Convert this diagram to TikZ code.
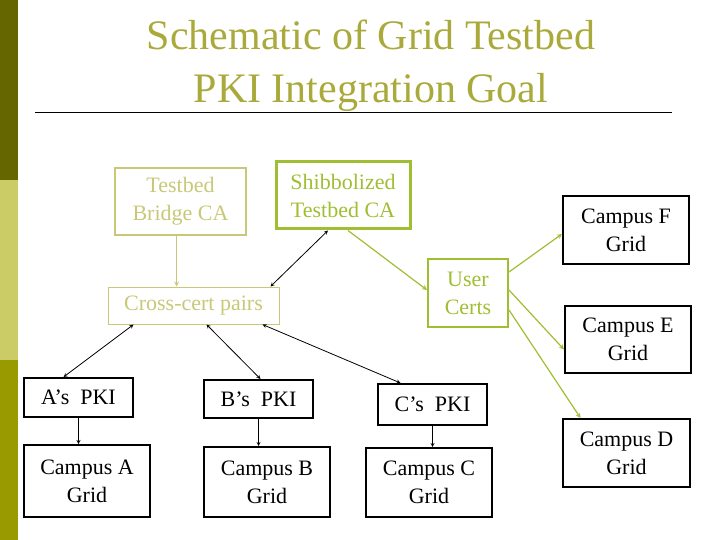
\documentclass[tikz,border=0pt]{standalone}
\usepackage{fontspec}
\setmainfont{Liberation Serif}
\definecolor{oliveDark}{RGB}{102,102,0}
\definecolor{oliveLight}{RGB}{204,204,102}
\definecolor{oliveMid}{RGB}{153,153,0}
\definecolor{titleCol}{RGB}{170,170,60}
\definecolor{paleCol}{RGB}{200,200,120}
\definecolor{greenCol}{RGB}{160,190,50}
\tikzset{
    box/.style={draw, line width=2pt, align=center, font=\fontsize{22}{28}\selectfont, inner sep=0pt},
    pale/.style={box, draw=paleCol, text=paleCol, line width=1.5pt},
    green/.style={box, draw=greenCol, text=greenCol},
    link/.style={<->, >=stealth, line width=0.8pt},
}
\begin{document}
\begin{tikzpicture}[x=1pt, y=-1pt]
    \useasboundingbox (0,0) rectangle (720,540);
    % Sidebar and title
    \fill[oliveDark] (0,0) rectangle (18,180);
    \fill[oliveLight] (0,180) rectangle (18,360);
    \fill[oliveMid] (0,360) rectangle (18,540);
    \node[text=titleCol, font=\fontsize{42}{53}\selectfont, align=center] (title) at (371,66) {Schematic of Grid Testbed\\PKI Integration Goal};
    \draw[line width=1pt] (35,113) -- (672,113);

    % CA boxes
    \node[pale, minimum width=131pt, minimum height=67pt] (bridge) at (180.5,201.5) {Testbed\\Bridge CA};
    \node[green, line width=3pt, minimum width=134pt, minimum height=67pt] (shib) at (343,195.5) {Shibbolized\\Testbed CA};
    \node[pale, line width=1pt, minimum width=171pt, minimum height=37pt] (cross) at (193.5,305.5) {Cross-cert pairs};
    \node[green, minimum width=80pt, minimum height=68pt] (user) at (468,293) {User\\Certs};

    % PKIs and grids
    \node[box, minimum width=109pt, minimum height=39pt] (apki) at (78.5,397.5) {A’s\ \ PKI};
    \node[box, minimum width=109pt, minimum height=38pt] (bpki) at (258.5,399) {B’s\ \ PKI};
    \node[box, minimum width=109pt, minimum height=41pt] (cpki) at (432.5,404.5) {C’s\ \ PKI};
    \node[box, minimum width=126pt, minimum height=72pt] (agrid) at (87,481) {Campus A\\Grid};
    \node[box, minimum width=126pt, minimum height=70pt] (bgrid) at (267,482) {Campus B\\Grid};
    \node[box, minimum width=126pt, minimum height=69pt] (cgrid) at (429,482.5) {Campus C\\Grid};
    \node[box, minimum width=126pt, minimum height=68pt] (fgrid) at (626,230) {Campus F\\Grid};
    \node[box, minimum width=126pt, minimum height=67pt] (egrid) at (628,339.5) {Campus E\\Grid};
    \node[box, minimum width=127pt, minimum height=68pt] (dgrid) at (626.5,453) {Campus D\\Grid};

    % Connectors
    \draw[->, >=stealth, paleCol, line width=1.2pt] ([xshift=-4pt]bridge.south) -- ([xshift=-4pt]bridge.south |- cross.north);
    \draw[link] ([xshift=-15pt]shib.south) -- ([xshift=-9pt]cross.north east);
    \draw[->, >=stealth, greenCol, line width=1.2pt] ([xshift=5pt]shib.south) -- ([yshift=3pt]user.west);
    \draw[link] ([xshift=-60pt]cross.south) -- ([xshift=-15pt]apki.north);
    \draw[link] ([xshift=13pt]cross.south) -- ([xshift=2pt]bpki.north);
    \draw[link] ([xshift=-17pt]cross.south east) -- ([xshift=-32pt]cpki.north);
    \foreach \s/\t in {apki/agrid, bpki/bgrid, cpki/cgrid}
        \draw[->, >=stealth, line width=0.8pt] (\s) -- (\s |- \t.north);
    \draw[->, >=stealth, greenCol, line width=1.2pt] ([yshift=21pt]user.east) -- ([yshift=-4pt]fgrid.west);
    \draw[->, >=stealth, greenCol, line width=1.2pt] ([yshift=3pt]user.east) -- ([yshift=-10pt]egrid.west);
    \draw[->, >=stealth, greenCol, line width=1.2pt] ([yshift=-17pt]user.east) -- ([xshift=-46pt]dgrid.north);
\end{tikzpicture}
\end{document}
